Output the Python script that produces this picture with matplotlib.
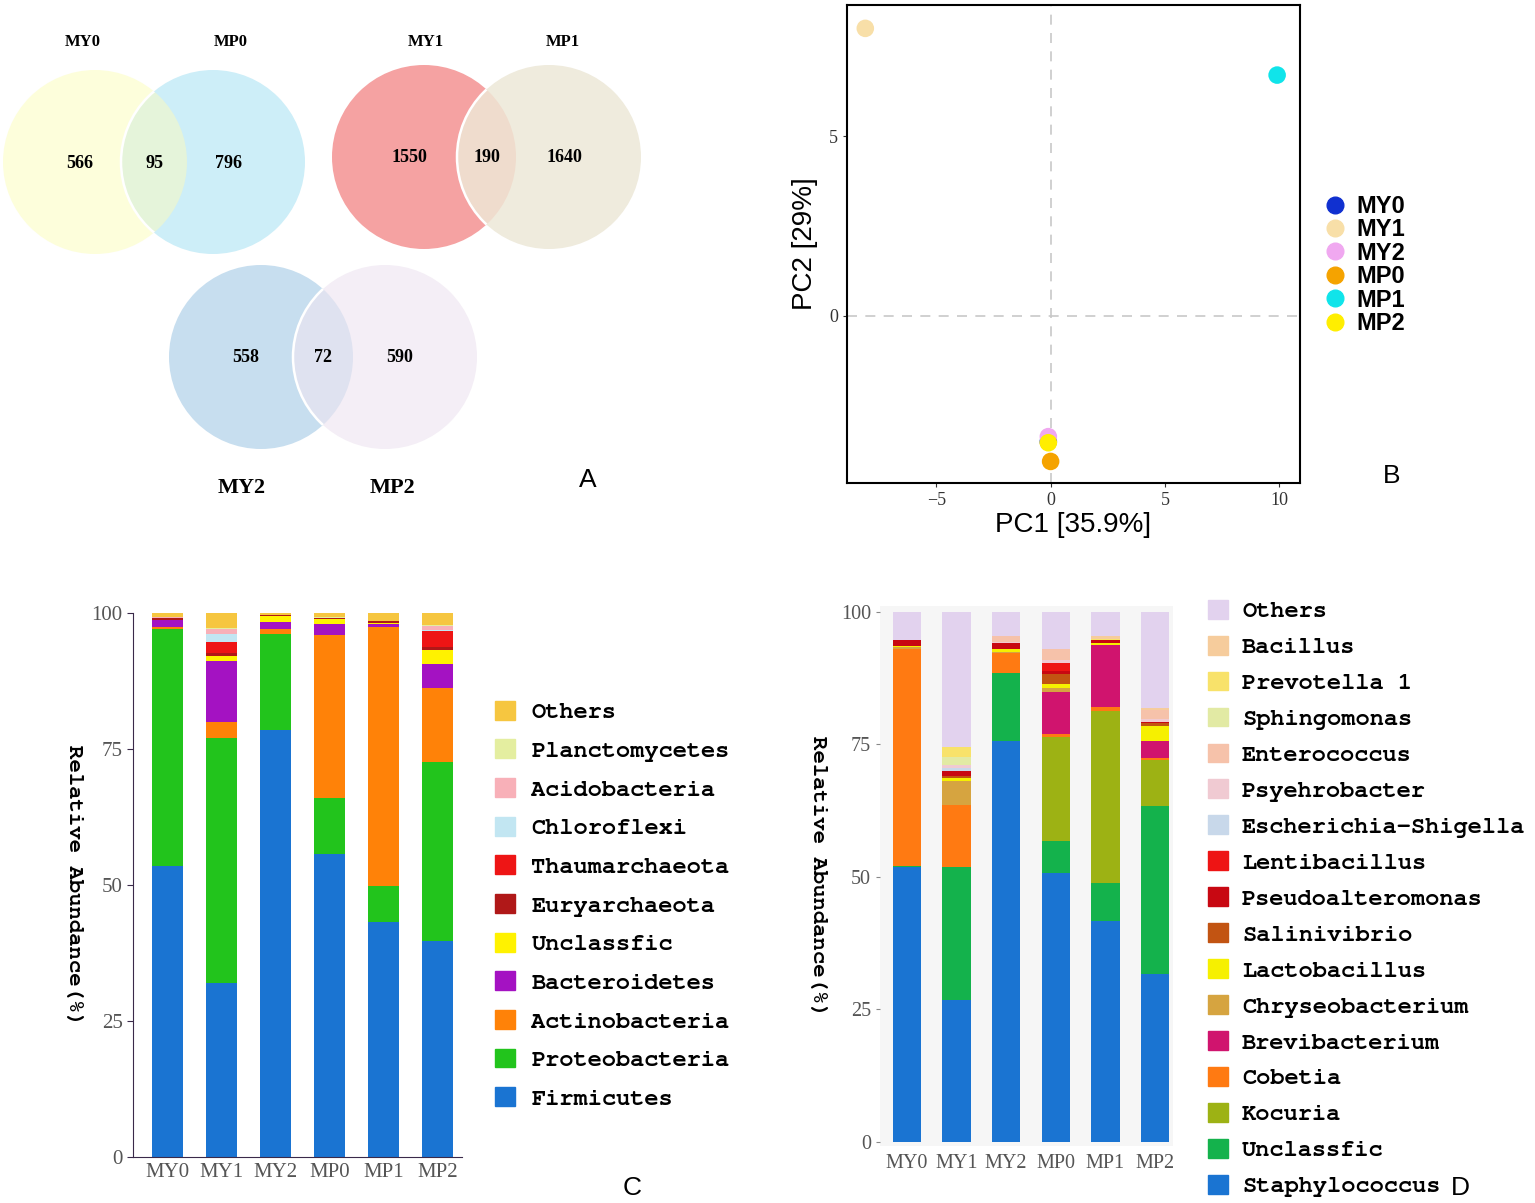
"""Venn diagrams, PCA and relative abundance bars (panels A-D)."""
import matplotlib
matplotlib.use("Agg")
import matplotlib.pyplot as plt
from matplotlib.patches import Ellipse, Patch
from matplotlib.lines import Line2D
import numpy as np

W, H = 1535, 1203

# ---- data ----
samples = ["MY0", "MY1", "MY2", "MP0", "MP1", "MP2"]

# Venn pairs: (left set, right set), unique / shared counts
venn_left = ["MY0", "MY1", "MY2"]
venn_right = ["MP0", "MP1", "MP2"]
only_left = [566, 1550, 558]
shared = [95, 190, 72]
only_right = [796, 1640, 590]

# PCA scores
pc1 = [-0.1, -8.1, -0.1, 0.0, 9.9, -0.1]
pc2 = [-3.5, 8.0, -3.36, -4.05, 6.7, -3.53]
pca_colors = ["#1030d0", "#f8dfa8", "#f0a8f0", "#f5a300", "#10e4ea", "#ffee00"]

# Phylum level (stacked bottom -> top)
phyla = ["Firmicutes", "Proteobacteria", "Actinobacteria", "Bacteroidetes",
         "Unclassfic", "Euryarchaeota", "Thaumarchaeota", "Chloroflexi",
         "Acidobacteria", "Planctomycetes", "Others"]
firmicutes = [53.5, 32.0, 78.5, 55.7, 43.2, 39.7]
proteobacteria = [43.5, 45.0, 17.7, 10.3, 6.7, 32.9]
actinobacteria = [0.5, 3.0, 0.8, 30.0, 47.5, 13.6]
bacteroidetes = [1.3, 11.2, 1.4, 1.9, 0.6, 4.4]
unclassfic_p = [0.0, 0.9, 1.0, 1.0, 0.2, 2.6]
euryarchaeota = [0.2, 0.5, 0.3, 0.1, 0.4, 0.5]
thaumarchaeota = [0.0, 2.1, 0.0, 0.0, 0.0, 2.9]
chloroflexi = [0.0, 1.5, 0.0, 0.0, 0.0, 0.3]
acidobacteria = [0.3, 0.8, 0.0, 0.0, 0.0, 0.7]
planctomycetes = [0.0, 0.3, 0.0, 0.2, 0.0, 0.2]
others_p = [0.7, 2.7, 0.3, 0.8, 1.4, 2.2]
phyla_colors = ["#1a74d2", "#22c41c", "#ff8208", "#a412c2", "#fff200",
                "#b01818", "#ee1515", "#c2e6f2", "#f8b0b8", "#e4eea0", "#f6c640"]

# Genus level (stacked bottom -> top)
genera = ["Staphylococcus", "Unclassfic", "Kocuria", "Cobetia", "Brevibacterium",
          "Chryseobacterium", "Lactobacillus", "Salinivibrio", "Pseudoalteromonas",
          "Lentibacillus", "Escherichia-Shigella", "Psyehrobacter", "Enterococcus",
          "Sphingomonas", "Prevotella 1", "Bacillus", "Others"]
staphylococcus = [51.8, 26.8, 75.7, 50.7, 41.6, 31.6]
unclassfic_g = [0.2, 25.0, 12.7, 6.1, 7.3, 31.8]
kocuria = [0.0, 0.0, 0.0, 19.6, 32.4, 8.7]
cobetia = [40.9, 11.8, 3.9, 0.6, 0.8, 0.4]
brevibacterium = [0.0, 0.0, 0.0, 7.9, 11.6, 3.2]
chryseobacterium = [0.5, 4.4, 0.2, 0.7, 0.0, 0.0]
lactobacillus = [0.2, 0.7, 0.4, 0.8, 0.5, 2.7]
salinivibrio = [0.0, 0.3, 0.0, 1.8, 0.0, 0.7]
pseudoalteromonas = [1.0, 1.0, 1.2, 0.6, 0.4, 0.2]
lentibacillus = [0.0, 0.0, 0.0, 1.6, 0.0, 0.0]
escherichia = [0.0, 0.5, 0.0, 0.0, 0.0, 0.0]
psyehrobacter = [0.0, 0.6, 0.3, 0.5, 0.0, 0.5]
enterococcus = [0.0, 0.0, 1.0, 2.0, 0.0, 1.6]
sphingomonas = [0.0, 1.5, 0.0, 0.0, 0.0, 0.0]
prevotella = [0.0, 2.0, 0.0, 0.0, 0.3, 0.0]
bacillus = [0.0, 0.0, 0.0, 0.0, 0.5, 0.5]
others_g = [5.4, 25.4, 4.6, 7.1, 4.6, 18.1]
genera_colors = ["#1a74d2", "#14b24c", "#9db214", "#ff7a12", "#d0146e",
                 "#d6a440", "#f6f000", "#c25412", "#c80812", "#ee1414",
                 "#c8d8ea", "#f0cad2", "#f6c2aa", "#e2eaa4", "#f8e26a",
                 "#f6cc9c", "#e2d2ee"]

phyla_vals = np.array([firmicutes, proteobacteria, actinobacteria, bacteroidetes,
                       unclassfic_p, euryarchaeota, thaumarchaeota, chloroflexi,
                       acidobacteria, planctomycetes, others_p])
genera_vals = np.array([staphylococcus, unclassfic_g, kocuria, cobetia, brevibacterium,
                        chryseobacterium, lactobacillus, salinivibrio, pseudoalteromonas,
                        lentibacillus, escherichia, psyehrobacter, enterococcus,
                        sphingomonas, prevotella, bacillus, others_g])

fig = plt.figure(figsize=(W / 100, H / 100), dpi=100)


def px_axes(left, top, right, bottom):
    return fig.add_axes([left / W, 1 - bottom / H, (right - left) / W, (bottom - top) / H])


serif = "Liberation Serif"
mono = ["Nimbus Mono PS", "FreeMono", "Courier New", "Liberation Mono"]
sans = "Liberation Sans"

# ---- A: Venn diagrams ----
axv = px_axes(0, 0, 720, 520)
axv.set_xlim(0, 720)
axv.set_ylim(520, 0)
axv.axis("off")

venn_centers = [((95, 162), (213, 162)), ((424, 157), (549, 157)), ((261, 357), (385, 357))]
venn_cols = [("#fdfedb", "#cdeef8", "#e5f4da"),
             ("#f5a2a2", "#efebdd", "#efdccd"),
             ("#c7deef", "#f4eef6", "#dfe2f0")]
r = 92
for i in range(3):
    (ca, cb), (fa, fb, fo) = venn_centers[i], venn_cols[i]
    ea = Ellipse(ca, 2 * r, 2 * r, facecolor=fa, edgecolor="none")
    eb = Ellipse(cb, 2 * r, 2 * r, facecolor=fb, edgecolor="none")
    axv.add_patch(ea)
    axv.add_patch(eb)
    eo = Ellipse(ca, 2 * r, 2 * r, facecolor=fo, edgecolor="none")
    axv.add_patch(eo)
    eo.set_clip_path(eb)
    edge = Ellipse(cb, 2 * r, 2 * r, facecolor="none", edgecolor="white", lw=1.8)
    axv.add_patch(edge)
    edge.set_clip_path(Ellipse(ca, 2 * r, 2 * r, transform=axv.transData))
    xa, ya = ca
    xb, yb = cb
    mid = (xb - r + xa + r) / 2
    axv.text(xa - 15, ya + 1, str(only_left[i]), ha="center", va="center",
             fontsize=13, family=serif, fontweight="bold")
    axv.text(mid, ya + 1, str(shared[i]), ha="center", va="center",
             fontsize=13, family=serif, fontweight="bold")
    axv.text(xb + 15, yb + 1, str(only_right[i]), ha="center", va="center",
             fontsize=13, family=serif, fontweight="bold")

top_lbl = [(83, 42), (231, 42), (426, 42), (563, 42)]
for (x, y), name in zip(top_lbl, ["MY0", "MP0", "MY1", "MP1"]):
    axv.text(x, y, name, ha="center", va="center", fontsize=12, family=serif,
             fontweight="bold")
for (x, y), name in zip([(242, 488), (392, 488)], ["MY2", "MP2"]):
    axv.text(x, y, name, ha="center", va="center", fontsize=16, family=serif,
             fontweight="bold")

# ---- B: PCA ----
axp = px_axes(847, 5, 1300, 483)
axp.axhline(0, color="#c8c8c8", ls=(0, (6, 5)), lw=1.2, zorder=0)
axp.axvline(0, color="#c8c8c8", ls=(0, (6, 5)), lw=1.2, zorder=0)
for i, s in enumerate(samples):
    axp.scatter(pc1[i], pc2[i], s=160, color=pca_colors[i], edgecolor="none", zorder=3)
axp.set_xlim(-8.9, 10.9)
axp.set_ylim(-4.65, 8.65)
axp.set_xticks([-5, 0, 5, 10])
axp.set_yticks([0, 5])
axp.tick_params(labelsize=13, length=3, color="#333333", labelcolor="#333333")
for lab in axp.get_xticklabels() + axp.get_yticklabels():
    lab.set_family(serif)
for sp in axp.spines.values():
    sp.set_linewidth(1.5)
axp.set_xlabel("PC1 [35.9%]", fontsize=20, family=sans, labelpad=2)
axp.set_ylabel("PC2 [29%]", fontsize=20, family=sans, labelpad=8)
handles = [Line2D([], [], marker="o", ls="none", color=c, markersize=12, label=s)
           for s, c in zip(samples, pca_colors)]
fig.legend(handles=handles, loc="upper left", bbox_to_anchor=(1309 / W, 1 - 183 / H),
           frameon=False, prop={"family": sans, "weight": "bold", "size": 17},
           labelspacing=0.02, handletextpad=0.3, borderpad=0, handlelength=1.2)

# ---- C: phylum bars ----
x = np.arange(len(samples))
axc = px_axes(133, 613, 462, 1157)
bottom = np.zeros(len(samples))
for vals, c in zip(phyla_vals, phyla_colors):
    axc.bar(x, vals, 0.574, bottom=bottom, color=c, linewidth=0)
    bottom += vals
axc.set_xlim(-0.64, 5.45)
axc.set_ylim(0, 100)
axc.set_yticks([0, 25, 50, 75, 100])
axc.set_xticks(x)
axc.set_xticklabels(samples)
axc.spines["top"].set_visible(False)
axc.spines["right"].set_visible(False)
axc.spines["left"].set_color("#3a2a4a")
axc.spines["bottom"].set_color("#3a2a4a")
axc.tick_params(labelsize=15, length=4, color="#3a2a4a", labelcolor="#555555")
axc.tick_params(axis="x", length=0, pad=4)
for lab in axc.get_xticklabels() + axc.get_yticklabels():
    lab.set_family(serif)
axc.set_ylabel("Relative Abundance(%)", fontsize=16, family=mono, fontweight="bold",
               rotation=-90, labelpad=19, va="bottom")
h_c = [Patch(color=c, label=n) for n, c in zip(phyla, phyla_colors)][::-1]
fig.legend(handles=h_c, loc="upper left", bbox_to_anchor=(483 / W, 1 - 689 / H),
           frameon=False, prop={"family": mono, "size": 17, "weight": "bold"},
           labelspacing=0.68, handlelength=0.85, handleheight=0.85,
           handletextpad=0.7, borderpad=0)

# ---- D: genus bars ----
axd = px_axes(880, 606, 1173, 1146)
axd.set_facecolor("#f6f6f6")
bottom = np.zeros(len(samples))
for vals, c in zip(genera_vals, genera_colors):
    axd.bar(x, vals, 0.57, bottom=bottom, color=c, linewidth=0)
    bottom += vals
axd.set_xlim(-0.54, 5.36)
axd.set_ylim(-0.75, 101.1)
axd.set_yticks([0, 25, 50, 75, 100])
axd.set_xticks(x)
axd.set_xticklabels(samples)
for sp in axd.spines.values():
    sp.set_visible(False)
axd.tick_params(labelsize=14.5, length=3, color="#888888", labelcolor="#555555")
axd.tick_params(axis="x", length=0, pad=6)
for lab in axd.get_xticklabels() + axd.get_yticklabels():
    lab.set_family(serif)
axd.set_ylabel("Relative Abundance(%)", fontsize=16, family=mono, fontweight="bold",
               rotation=-90, labelpad=23, va="bottom")
h_d = [Patch(color=c, label=n) for n, c in zip(genera, genera_colors)][::-1]
fig.legend(handles=h_d, loc="upper left", bbox_to_anchor=(1196 / W, 1 - 588 / H),
           frameon=False, prop={"family": mono, "size": 17, "weight": "bold"},
           labelspacing=0.565, handlelength=0.85, handleheight=0.85,
           handletextpad=0.6, borderpad=0)

# panel letters
for lx, ly, t in [(588, 480, "A"), (1392, 476, "B"), (632, 1188, "C"), (1460, 1188, "D")]:
    fig.text(lx / W, 1 - ly / H, t, ha="center", va="center", fontsize=19, family=sans)

fig.savefig("out.png", dpi=100)
